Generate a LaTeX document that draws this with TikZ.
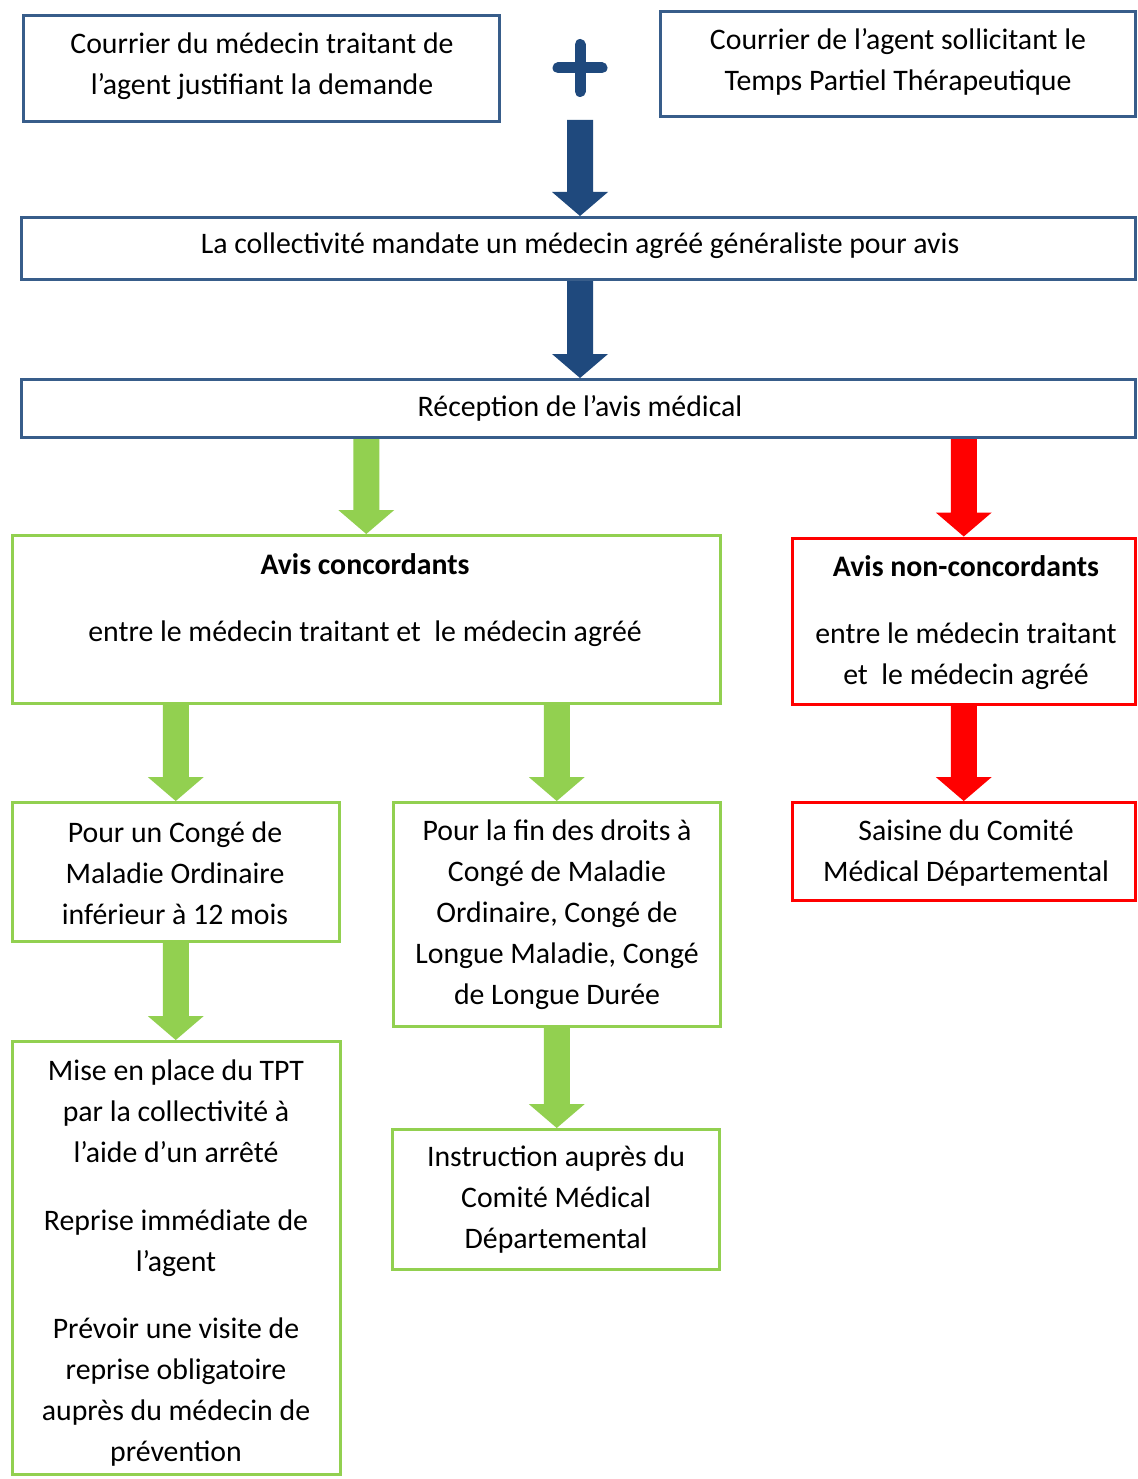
\documentclass[tikz,border=0pt]{standalone}
\usepackage{fontspec}
\setmainfont{Carlito}
\usetikzlibrary{calc}
\definecolor{bborder}{RGB}{56,93,138}
\definecolor{barrow}{RGB}{31,73,125}
\definecolor{gr}{RGB}{146,208,80}
\definecolor{rd}{RGB}{255,0,0}
\newcommand\fatarrow[3]{%
  \fill[#1] let \p1=(#2), \p2=(#3) in
    (\x1-13pt,\y1) -- (\x1-13pt,\y2+24pt) -- (\x1-28pt,\y2+24pt) -- (\x1,\y2)
    -- (\x1+28pt,\y2+24pt) -- (\x1+13pt,\y2+24pt) -- (\x1+13pt,\y1) -- cycle;}
\begin{document}
\begin{tikzpicture}[x=1pt,y=1pt,
  box/.style={draw, line width=3pt, inner sep=0pt, fill=white},
  bbox/.style={box, draw=bborder},
  gbox/.style={box, draw=gr},
  rbox/.style={box, draw=rd},
  txt/.style={inner sep=0pt, align=center, text=black, yshift=-2pt, font=\fontsize{29.8}{41}\selectfont}]
\fill[white] (0,0) rectangle (1137,-1479);
\useasboundingbox (0,0) rectangle (1137,-1479);

% boxes
\node[bbox, minimum width=476, minimum height=106] (b1) at (261.5,-68.5) {};
\node[bbox, minimum width=474.5, minimum height=105.5] (b2) at (897.75,-64.25) {};
\node[bbox, minimum width=1113.5, minimum height=62] (mand) at (578.25,-248.5) {};
\node[bbox, minimum width=1113.5, minimum height=58] (recep) at (578.25,-408.5) {};
\node[gbox, minimum width=707.5, minimum height=168] (conc) at (366.25,-619.5) {};
\node[rbox, minimum width=342.5, minimum height=166.5] (ncon) at (963.75,-621.25) {};
\node[gbox, minimum width=326.5, minimum height=139] (pm) at (175.75,-872) {};
\node[gbox, minimum width=326.5, minimum height=224] (pl) at (556.75,-914.5) {};
\node[rbox, minimum width=342.5, minimum height=98] (sais) at (963.75,-851.5) {};
\node[gbox, minimum width=327.5, minimum height=433] (mise) at (176.25,-1258) {};
\node[gbox, minimum width=326.5, minimum height=140] (instr) at (555.75,-1199.5) {};

% texts
\node[txt] (t1) at (262,-64) {Courrier du médecin traitant de\\l’agent justifiant la demande};
\node[txt] (t2) at (898,-60) {Courrier de l’agent sollicitant le\\Temps Partiel Thérapeutique};
\node[txt] (tmand) at (580,-244) {La collectivité mandate un médecin agréé généraliste pour avis};
\node[txt] (trecep) at (580,-406) {Réception de l’avis médical};
\node[txt] (tconc) at (365,-598.5) {\bfseries Avis concordants\\[26pt]entre le médecin traitant et~ le médecin agréé};
\node[txt] (tncon) at (966,-620.5) {\bfseries Avis non-concordants\\[26pt]entre le médecin traitant\\et~ le médecin agréé};
\node[txt] (tpm) at (175,-871.5) {Pour un Congé de\\Maladie Ordinaire\\inférieur à 12 mois};
\node[txt] (tpl) at (557,-913) {Pour la fin des droits à\\Congé de Maladie\\Ordinaire, Congé de\\Longue Maladie, Congé\\de Longue Durée};
\node[txt] (tsais) at (966,-851) {Saisine du Comité\\Médical Départemental};
\node[txt] (tmise) at (176,-1261) {Mise en place du TPT\\par la collectivité à\\l’aide d’un arrêté\\[27pt]Reprise immédiate de\\l’agent\\[26pt]Prévoir une visite de\\reprise obligatoire\\auprès du médecin de\\prévention};
\node[txt] (tinstr) at (556,-1198) {Instruction auprès du\\Comité Médical\\Départemental};

% plus sign
\coordinate (plus) at (580,-68);
\draw[barrow, line width=11pt, line cap=round] ($(plus)+(0,23.5)$) -- ($(plus)+(0,-23.5)$);
\draw[barrow, line width=11pt, line cap=round] ($(plus)+(-22,0)$) -- ($(plus)+(22,0)$);
\coordinate (a1) at (580,-120);

% arrows
\fatarrow{barrow}{a1}{mand.north -| a1}
\fatarrow{barrow}{mand.south -| a1}{recep.north -| a1}
\fatarrow{gr}{recep.south -| conc.north}{conc.north}
\fatarrow{rd}{recep.south -| ncon.north}{ncon.north}
\fatarrow{gr}{conc.south -| pm.north}{pm.north}
\fatarrow{gr}{conc.south -| pl.north}{pl.north}
\fatarrow{rd}{ncon.south}{sais.north}
\fatarrow{gr}{pm.south}{mise.north}
\fatarrow{gr}{pl.south}{instr.north}
\end{tikzpicture}
\end{document}
